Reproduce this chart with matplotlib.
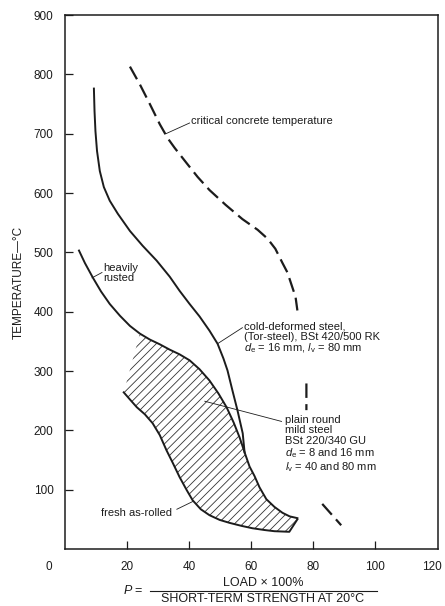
import numpy as np
import matplotlib
matplotlib.use('Agg')
import matplotlib.pyplot as plt
from matplotlib.lines import Line2D

plt.rcParams['font.family'] = ['Liberation Sans', 'DejaVu Sans']
plt.rcParams['mathtext.fontset'] = 'custom'
plt.rcParams['mathtext.rm'] = 'Liberation Sans'
plt.rcParams['mathtext.it'] = 'Liberation Sans:italic'
plt.rcParams['hatch.linewidth'] = 0.6

ink = '#1c1c1c'

# critical concrete temperature (dashed, gaps where the labels sit)
crit_x = [21.0, 24.2, 27.4, 30.6, 33.2, 35.4, 39.3, 42.8, 46.6, 51.8, 57.2, 62.1, 65.3, 67.8,
          70.1, 71.7, 72.9, 74.3, 74.9, np.nan, 77.8, 77.8, np.nan, 82.9, 89.0]
crit_y = [813, 783, 750, 716, 692, 676, 650, 627, 605, 580, 556, 538, 523, 506,
          482, 466, 447, 425, 402, np.nan, 279, 234, np.nan, 76, 40]

# cold-deformed steel (Tor-steel)
cold_x = [9.4, 9.6, 9.9, 10.4, 11.3, 12.6, 14.5, 17.1, 21.0, 25.1, 29.6, 33.8, 37.0, 40.2,
          43.4, 46.6, 49.2, 51.1, 52.4, 54.0, 55.6, 57.3, 57.9]
cold_y = [776, 738, 704, 671, 637, 610, 587, 565, 536, 511, 486, 459, 435, 413,
          392, 368, 346, 321, 301, 267, 234, 195, 163]

# plain round mild steel: heavily rusted (upper) and fresh as-rolled (lower)
rusted_x = [4.6, 6.5, 9.1, 11.7, 14.5, 17.8, 21.0, 24.2, 27.4, 30.6, 33.8, 37.0, 40.2, 43.4,
            46.6, 49.5, 52.1, 54.4, 56.3, 57.9, 59.5, 61.1, 62.7, 64.9, 67.5, 70.1, 72.4, 74.9]
rusted_y = [503, 482, 457, 434, 413, 393, 376, 363, 353, 345, 336, 328, 318, 303,
            284, 262, 239, 213, 188, 163, 139, 123, 104, 84, 71, 61, 55, 52]
fresh_x = [19.0, 21.0, 23.2, 25.8, 28.3, 30.6, 32.8, 34.8, 37.0, 39.3, 41.2, 43.8, 46.6,
           49.9, 53.1, 56.9, 60.4, 64.3, 67.5, 72.3, 74.9]
fresh_y = [264, 252, 239, 227, 212, 192, 166, 145, 121, 99, 82, 67, 57,
           49, 44, 39, 35, 32, 30, 29, 50]

xticks = [20, 40, 60, 80, 100]
yticks = [100, 200, 300, 400, 500, 600, 700, 800, 900]

fig = plt.figure(figsize=(4.45, 6.06), dpi=100)
ax = fig.add_axes([64.7/445, 1-549/606, (437.5-64.7)/445, (549-15)/606])
ax.set_xlim(0, 120)
ax.set_ylim(0, 900)

# hatched band between the two mild steel curves
i0 = rusted_x.index(24.2)
ax.fill(rusted_x[i0:] + fresh_x[::-1], rusted_y[i0:] + fresh_y[::-1],
        facecolor='none', edgecolor='#333333', lw=0, hatch='////')

ax.plot(rusted_x, rusted_y, color=ink, lw=1.4)
ax.plot(fresh_x, fresh_y, color=ink, lw=1.4)
ax.plot(cold_x, cold_y, color=ink, lw=1.4)
cl, = ax.plot(crit_x, crit_y, color=ink, lw=1.6)
cl.set_dashes((6.5, 2.8))

# labels and leaders
fs = 8
ax.plot([32.6, 40.2], [700, 718], color=ink, lw=0.6)
ax.text(40.8, 722, 'critical concrete temperature', fontsize=fs, va='center', color=ink)

ax.plot([8.8, 12.0], [457, 466], color=ink, lw=0.6)
ax.text(12.3, 465, 'heavily\nrusted', fontsize=fs, va='center', color=ink, linespacing=0.95)

ax.plot([49.2, 57.2], [346, 373], color=ink, lw=0.6)
ax.text(57.6, 355, 'cold-deformed steel,\n(Tor-steel), BSt 420/500 RK\n'
        r'$d_{\rm e}$ = 16 mm, $l_{\rm v}$ = 80 mm',
        fontsize=fs, va='center', color=ink, linespacing=1.0)

ax.plot([45.1, 69.8], [249, 215], color=ink, lw=0.6)
ax.text(71.0, 176, 'plain round\nmild steel\nBSt 220/340 GU\n'
        r'$d_{\rm e}$ = 8 and 16 mm' '\n' r'$l_{\rm v}$ = 40 and 80 mm',
        fontsize=fs, va='center', color=ink, linespacing=1.05)

ax.plot([36.1, 41.2], [67, 80], color=ink, lw=0.6)
ax.text(11.7, 61, 'fresh as-rolled', fontsize=fs, va='center', color=ink)

# axes styling
for s in ax.spines.values():
    s.set_linewidth(1.1)
    s.set_color(ink)
ax.set_xticks(xticks)
ax.set_yticks(yticks)
ax.tick_params(direction='in', length=6, width=0.9, labelsize=8.5, colors=ink)
ax.tick_params(axis='x', pad=9)
ax.tick_params(axis='y', pad=8)
ax.annotate('0', xy=(0, 0), xycoords=('data', 'axes fraction'), xytext=(-11.5, -9),
            textcoords='offset points', ha='center', va='top', fontsize=8.5, color=ink)
ax.annotate('120', xy=(120, 0), xycoords=('data', 'axes fraction'), xytext=(-4, -9),
            textcoords='offset points', ha='center', va='top', fontsize=8.5, color=ink)

ax.set_ylabel('TEMPERATURE\u2014°C', fontsize=8.5, labelpad=6.5, color=ink)

# x-axis label as a fraction
fig.text(123/445, 1-590/606, r'$P$ =', ha='left', va='center', fontsize=9, color=ink)
fig.text(263/445, 1-583/606, 'LOAD × 100%', ha='center', va='center', fontsize=9, color=ink)
fig.add_artist(Line2D([150/445, 377/445], [1-591/606, 1-591/606], color=ink, lw=0.8))
fig.text(263/445, 1-599.5/606, 'SHORT-TERM STRENGTH AT 20°C', ha='center', va='center',
         fontsize=9, color=ink)

fig.savefig('out.png', dpi=100)
